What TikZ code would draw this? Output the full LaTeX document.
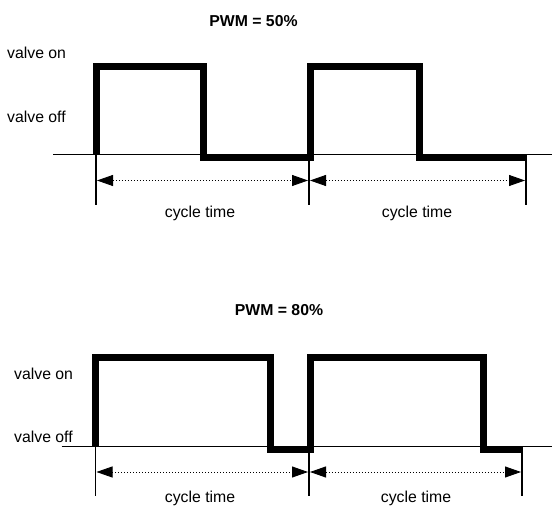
\documentclass[tikz,border=0pt]{standalone}
\usepackage{fontspec}
\setmainfont{Liberation Sans}
\usetikzlibrary{arrows.meta}

\begin{document}
\begin{tikzpicture}[x=1pt,y=-1pt,
  label/.style={font=\fontsize{15.8}{18}\selectfont, inner sep=0pt},
  title/.style={label, font=\fontsize{15.8}{18}\selectfont\bfseries},
  axisline/.style={line width=1.3pt},
  tickline/.style={line width=1.4pt},
  signal/.style={line width=7pt, line join=miter, line cap=butt},
  span/.style={line width=0.9pt, dash pattern=on 0.9pt off 2.1pt,
    {Triangle[length=16pt,width=11pt,fill=black]}-{Triangle[length=16pt,width=11pt,fill=black]},
    shorten <=1pt, shorten >=1pt}
]
\useasboundingbox[fill=white] (0,0) rectangle (552,510);

% ---------- upper diagram: PWM = 50% ----------
\node[title, anchor=base] (t1) at (253.5,26.7) {PWM = 50\%};
\node[label, anchor=base west] (on1) at (7,58.3) {valve on};
\node[label, anchor=base west] (off1) at (7,122.3) {valve off};

\coordinate (axL1) at (53,154.5);
\coordinate (axR1) at (552,154.5);
\draw[axisline] (axL1) -- (axR1);

\draw[signal] (96,154.5) -- (96,66.7) -- (203.5,66.7) -- (203.5,158)
  -- (310,158) -- (310,66.7) -- (419.5,66.7) -- (419.5,158) -- (527,158);

\coordinate (a1) at (96,154.5);   \coordinate (a1b) at (96,205);
\coordinate (b1) at (309,154.5);  \coordinate (b1b) at (309,205);
\coordinate (c1) at (526,154.5);  \coordinate (c1b) at (526,205);
\draw[tickline] (a1) -- (a1b);
\draw[tickline] (b1) -- (b1b);
\draw[tickline] (c1) -- (c1b);

\coordinate (p1) at (96,180.5);
\coordinate (q1) at (309,180.5);
\coordinate (r1) at (526,180.5);
\draw[span] (p1) -- (q1);
\draw[span] (q1) -- (r1);

\node[label, anchor=base] (ct1) at (200,217.3) {cycle time};
\node[label, anchor=base] (ct2) at (417,217.3) {cycle time};

% ---------- lower diagram: PWM = 80% ----------
\node[title, anchor=base] (t2) at (279,316) {PWM = 80\%};
\node[label, anchor=base west] (on2) at (14,379.5) {valve on};
\node[label, anchor=base west] (off2) at (14,442.7) {valve off};

\coordinate (axL2) at (61.7,446.5);
\coordinate (axR2) at (552,446.5);
\draw[axisline] (axL2) -- (axR2);

\draw[signal] (95,446.5) -- (95,358) -- (270.5,358) -- (270.5,449.7)
  -- (310,449.7) -- (310,358) -- (483.5,358) -- (483.5,449.7) -- (522.5,449.7);

\coordinate (a2) at (95.5,446.5);  \coordinate (a2b) at (95.5,496);
\coordinate (b2) at (309,446.5);   \coordinate (b2b) at (309,496);
\coordinate (c2) at (522,446.5);   \coordinate (c2b) at (522,496);
\draw[tickline] (a2) -- (a2b);
\draw[tickline] (b2) -- (b2b);
\draw[tickline] (c2) -- (c2b);

\coordinate (p2) at (95.5,472);
\coordinate (q2) at (309,472);
\coordinate (r2) at (522,472);
\draw[span] (p2) -- (q2);
\draw[span] (q2) -- (r2);

\node[label, anchor=base] (ct3) at (200,503) {cycle time};
\node[label, anchor=base] (ct4) at (416,503) {cycle time};
\end{tikzpicture}
\end{document}
